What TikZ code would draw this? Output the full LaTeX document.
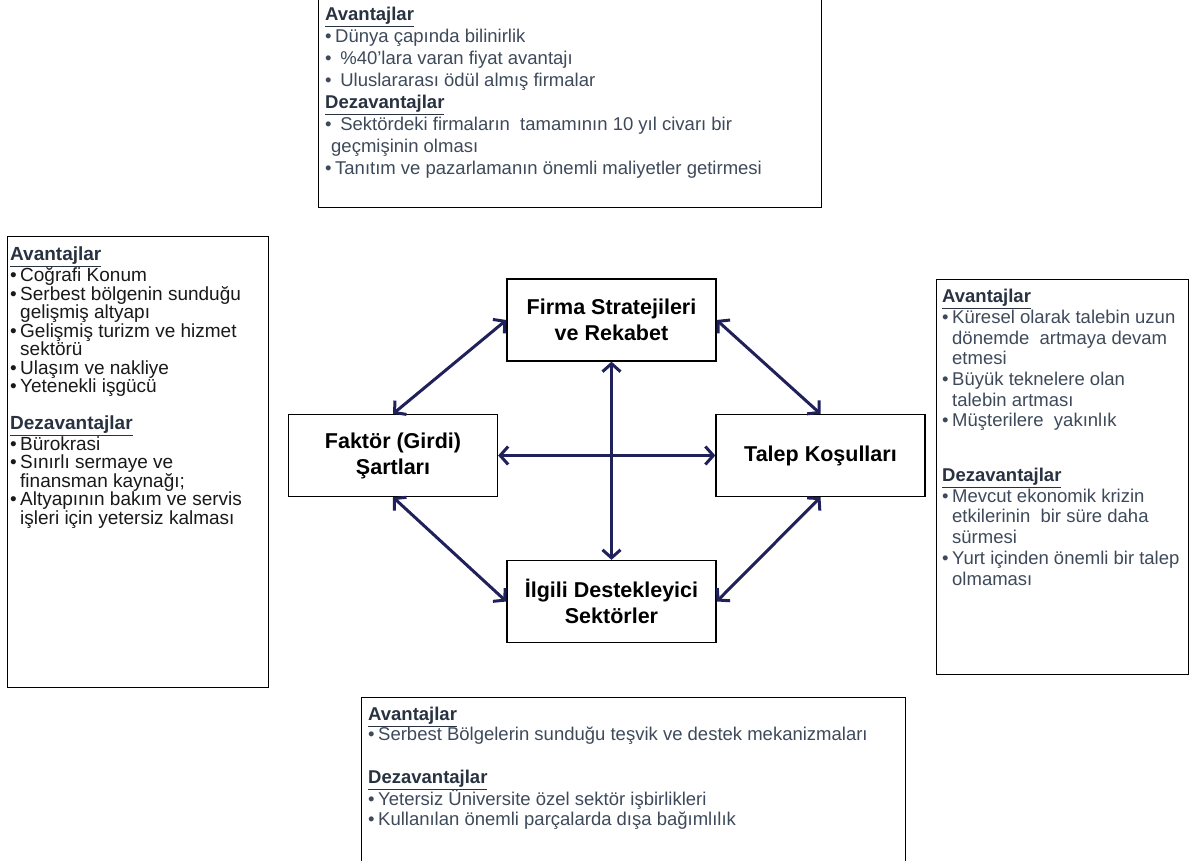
\documentclass[tikz,border=0pt]{standalone}
\usepackage{fontspec}
\setmainfont{Liberation Sans}
\usetikzlibrary{arrows.meta}
\definecolor{navyarrow}{RGB}{32,32,90}
\definecolor{headc}{RGB}{40,50,64}
\definecolor{bodyc}{RGB}{62,74,90}
\definecolor{leftc}{RGB}{25,25,25}
\newcommand{\bul}{\makebox[10pt][l]{\textbullet}}
\newcommand{\ind}{\hspace*{10pt}}
\newcommand{\hd}[1]{{\color{headc}\underline{\textbf{#1}}}}
\tikzset{
  frame/.style={draw=black, line width=1.3pt, anchor=north west, inner sep=0pt},
  core/.style={draw=black, line width=1.3pt, align=center, inner sep=0pt,
    minimum width=209pt, minimum height=82pt,
    font=\fontsize{21.5}{26}\selectfont\bfseries, text=black},
  txt/.style={anchor=north west, inner sep=0pt, align=left},
  biarrow/.style={draw=navyarrow, line width=3pt,
    {Straight Barb[length=8pt,width=18pt]}-{Straight Barb[length=8pt,width=18pt]}}
}
\begin{document}
\begin{tikzpicture}[x=1pt,y=-1pt]
\useasboundingbox (0,0) rectangle (1192,861);
\fill[white] (0,0) rectangle (1192,861);

% info frames
\node[frame, minimum width=503pt, minimum height=230pt] (topbox) at (318,-23) {};
\node[frame, minimum width=261pt, minimum height=451pt] (leftbox) at (7,236) {};
\node[frame, minimum width=252pt, minimum height=395pt] (rightbox) at (936,279) {};
\node[frame, minimum width=544pt, minimum height=200pt] (botbox) at (361,697) {};

% top text
\node[txt, text=bodyc, font=\fontsize{18.5}{22}\selectfont] (toptext) at (325,7) {%
\hd{Avantajlar}\\
\bul Dünya çapında bilinirlik\\
\bul\ \%40’lara varan fiyat avantajı\\
\bul\ Uluslararası ödül almış firmalar\\
\hd{Dezavantajlar}\\
\bul\ Sektördeki firmaların\ \ tamamının 10 yıl civarı bir\\
\hspace*{6pt}geçmişinin olması\\
\bul Tanıtım ve pazarlamanın önemli maliyetler getirmesi};

% left text
\node[txt, text=leftc, font=\fontsize{19}{18.5}\selectfont] (lefttext) at (10,247) {%
\hd{Avantajlar}\\
\bul Coğrafi Konum\\
\bul Serbest bölgenin sunduğu\\
\ind gelişmiş altyapı\\
\bul Gelişmiş turizm ve hizmet\\
\ind sektörü\\
\bul Ulaşım ve nakliye\\
\bul Yetenekli işgücü\\[18pt]
\hd{Dezavantajlar}\\
\bul Bürokrasi\\
\bul Sınırlı sermaye ve\\
\ind finansman kaynağı;\\
\bul Altyapının bakım ve servis\\
\ind işleri için yetersiz kalması};

% right text
\node[txt, text=bodyc, font=\fontsize{18.5}{20.7}\selectfont] (righttext) at (942,289) {%
\hd{Avantajlar}\\
\bul Küresel olarak talebin uzun\\
\ind dönemde\ \ artmaya devam\\
\ind etmesi\\
\bul Büyük teknelere olan\\
\ind talebin artması\\
\bul Müşterilere\ \ yakınlık\\[34pt]
\hd{Dezavantajlar}\\
\bul Mevcut ekonomik krizin\\
\ind etkilerinin\ \ bir süre daha\\
\ind sürmesi\\
\bul Yurt içinden önemli bir talep\\
\ind olmaması};

% bottom text
\node[txt, text=bodyc, font=\fontsize{18.5}{20}\selectfont] (bottext) at (368,707) {%
\hd{Avantajlar}\\
\bul Serbest Bölgelerin sunduğu teşvik ve destek mekanizmaları\\[23pt]
\hd{Dezavantajlar}\\
\bul Yetersiz Üniversite özel sektör işbirlikleri\\
\bul Kullanılan önemli parçalarda dışa bağımlılık};

% core boxes
\node[core] (firma) at (611.5,320) {Firma Stratejileri\\ve Rekabet};
\node[core] (faktor) at (393,455.5) {Faktör (Girdi)\\Şartları};
\node[core] (talep) at (820.5,455.5) {Talep Koşulları};
\node[core] (ilgili) at (611.5,601.5) {İlgili Destekleyici\\Sektörler};

% connectors
\draw[biarrow] (firma.west) -- (faktor.north);
\draw[biarrow] (firma.east) -- (talep.north);
\draw[biarrow] (faktor.south) -- (ilgili.west);
\draw[biarrow] (talep.south) -- (ilgili.east);
\draw[biarrow] (firma.south) -- (ilgili.north);
\draw[biarrow] (faktor.east) -- (talep.west);
\end{tikzpicture}
\end{document}
